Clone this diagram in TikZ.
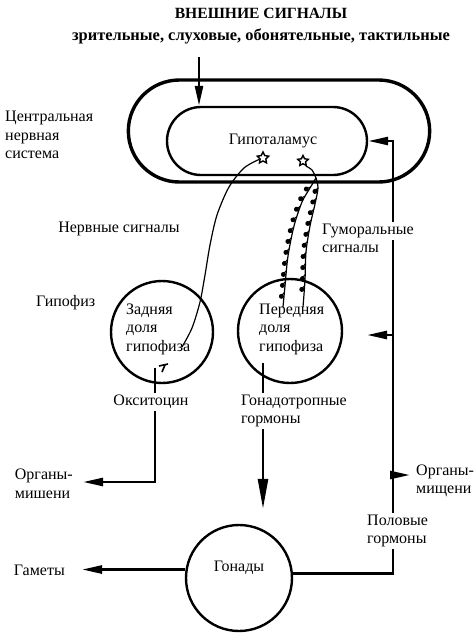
\documentclass[tikz,border=0pt]{standalone}
\usepackage{fontspec}
\setmainfont{Liberation Serif}
\usetikzlibrary{shapes.misc,shapes.geometric,arrows.meta,backgrounds,decorations.markings}
\begin{document}
\begin{tikzpicture}[x=1pt,y=-1pt,
  txt/.style={font=\fontsize{16}{18.5}\selectfont, inner sep=1pt, align=left},
  btxt/.style={font=\bfseries\fontsize{15.6}{18}\selectfont, inner sep=1pt},
  wtxt/.style={txt, fill=white, inner ysep=2pt},
  lobe/.style={circle, draw, line width=2.4pt, inner sep=0pt},
  conn/.style={line width=2.6pt},
  tip/.style={-{Triangle[length=20pt,width=8pt]}},
  bigtip/.style={-{Triangle[length=30pt,width=10pt]}},
  fiber/.style={line width=1.2pt},
  soma/.style={star, star points=5, star point ratio=2.0, draw, line width=1.4pt, minimum size=12pt, inner sep=0pt},
  beads/.style={fiber, postaction={decorate}, decoration={markings,
     mark=between positions 0.1 and 0.92 step 11pt with {\fill (1pt,-2.6pt) circle (2.5pt); \draw[line width=1pt] (1pt,-2.6pt) .. controls (-2pt,-1pt) .. (-3pt,0pt);}}}
]
\useasboundingbox (0,0) rectangle (476,633);

% headings
\node[btxt] (title) at (261,13) {ВНЕШНИЕ СИГНАЛЫ};
\node[btxt, font=\bfseries\fontsize{16.4}{18}\selectfont] (sub) at (261,36) {зрительные, слуховые, обонятельные, тактильные};
\coordinate (ext) at (199,57);

% brain
\node[rounded rectangle, draw, line width=3.4pt, minimum width=308pt, minimum height=102pt] (cns) at (279,131) {};
\node[rounded rectangle, draw, line width=2.4pt, minimum width=202pt, minimum height=68pt, txt, align=center] (hyp) at (267,141) {\hspace*{12pt}Гипоталамус};
\node[txt, anchor=west] (cnslbl) at (4,135) {Центральная\\нервная\\система};

% neurons
\node[soma] (n1) at (263,158) {};
\node[soma, minimum size=11pt] (n2) at (303,161) {};

% pituitary
\node[lobe, minimum size=102pt] (post) at (162,332) {};
\node[lobe, minimum size=104pt] (ant) at (290,331) {};
\node[txt, anchor=west] (postlbl) at (125,329) {Задняя\\доля\\гипофиза};
\node[txt, anchor=west] (antlbl) at (258,329) {Передняя\\доля\\гипофиза};
\node[txt, anchor=west] (hyplbl) at (35,303) {Гипофиз};
\node[txt] (nerv) at (119,229) {Нервные сигналы};
\node[wtxt, anchor=west] (hum1) at (321,231) {Гуморальные};
\node[txt, anchor=west] (hum2) at (321,249) {сигналы};

% gonads
\node[lobe, minimum size=106pt, txt, align=center] (gon) at (239,578) {Гонады\\[4pt]};

% lower labels
\node[wtxt] (oxy) at (151,402) {Окситоцин};
\node[wtxt, anchor=west] (gtr) at (240,411) {Гонадотропные\\гормоны};
\node[txt, anchor=east, inner xsep=10pt] (orgL) at (83,484) {Органы-\\мишени};
\node[txt, anchor=west, inner xsep=6pt] (orgR) at (410,481) {Органы-\\мищени};
\node[wtxt, anchor=west] (sex) at (366,531) {Половые\\гормоны};
\node[txt, anchor=east, inner xsep=17pt] (gam) at (82,570) {Гаметы};

% junction coordinates
\coordinate (fbt) at (393,141);
\coordinate (j1) at (393,335);
\coordinate (a1) at (367,335);
\coordinate (j2) at (393,475);
\coordinate (ps) at (155,368);
\coordinate (pc) at (155,482);
\coordinate (as) at (263,363);

\begin{scope}[on background layer]
  \draw[conn, tip] (ext) -- (ext |- hyp.north);
  \draw[conn, tip] (gon.5) -| (fbt) -- (hyp.east);
  \draw[conn, tip] (j1) -- (a1);
  \draw[conn, tip] (j2) -- (j2 -| orgR.west);
  \draw[conn, tip] (ps) -- (pc) -- (pc -| orgL.east);
  \draw[conn, bigtip, shorten >=15pt] (as) -- (as |- gon.north);
  \draw[conn, tip] (gon.171) -- (gon.171 -| gam.east);
\end{scope}

% nerve fibre to posterior lobe
\draw[fiber] plot[smooth] coordinates {(n1.200) (244,168) (229,187) (217,215) (210,245) (205,275) (200,302) (192,328) (182,347)};
\draw[line width=1.6pt] (159,366) -- (168,364) (165,365) -- (162,372);

% neurosecretory fibres to anterior lobe
\draw[fiber] plot[smooth] coordinates {(n2.-60) (312,170) (316,178)};
\draw[beads] plot[smooth] coordinates {(316,178) (310,188) (302,202) (294,226) (288,256) (285,286) (283,307)};
\draw[beads] plot[smooth] coordinates {(316,178) (318,188) (315,204) (310,226) (306,252) (305,280) (303,307)};
\end{tikzpicture}
\end{document}
